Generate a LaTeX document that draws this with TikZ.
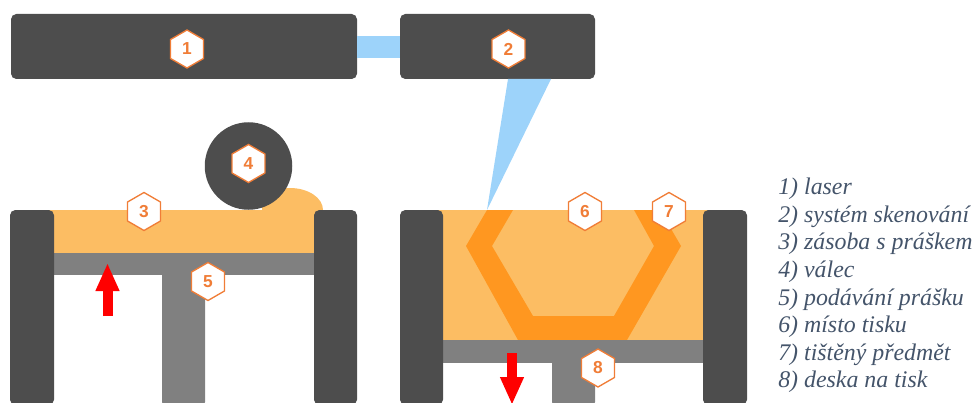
\documentclass[tikz,border=0pt]{standalone}
\usepackage{fontspec}
\setmainfont{Liberation Serif}
\newfontfamily\hexfont{Liberation Sans}
\usetikzlibrary{arrows.meta,shapes.geometric}
\definecolor{darkbox}{RGB}{77,77,77}
\definecolor{platform}{RGB}{128,128,128}
\definecolor{powder}{RGB}{252,189,99}
\definecolor{printed}{RGB}{255,151,32}
\definecolor{beam}{RGB}{157,211,250}
\definecolor{hexline}{RGB}{240,125,55}
\definecolor{legendtext}{RGB}{68,84,106}
\tikzset{
  hexmark/.style={
    regular polygon, regular polygon sides=6, shape border rotate=30,
    draw=hexline, fill=white, line width=1pt,
    minimum size=28.5pt, inner sep=0pt, outer sep=0pt,
    text=hexline, font=\hexfont\fontsize{13}{13}\selectfont\bfseries
  },
  headbox/.style={
    fill=darkbox, rounded corners=4pt, inner sep=0pt, outer sep=0pt,
    minimum height=48.75pt
  },
  wall/.style={fill=darkbox, rounded corners=4pt},
  liftarrow/.style={
    draw=red, line width=7.5pt,
    -{Triangle[length=21pt,width=16.5pt,fill=red]}
  }
}

\begin{document}
\begin{tikzpicture}[x=0.75pt, y=-0.75pt]
\useasboundingbox (0,0) rectangle (975,403);

%% ── Laser and scanner ────────────────────────────────────────────────────────
\node[headbox, minimum width=259.5pt] (laser)   at (184,46.5)   {};
\node[headbox, minimum width=146.25pt] (scanner) at (497.5,46.5) {};
\draw[beam, line width=16.5pt] (laser.east) ++(0,0.5) -- (scanner.west |- 0,47);
\fill[beam] (508,79) -- (551,79) -- (487,210) -- cycle;

%% ── Left chamber ─────────────────────────────────────────────────────────────
\fill[powder] (32,210) rectangle (335,253);
\fill[powder] (262,211) -- (262,188) -- (290,188) arc[start angle=-90, end angle=0, x radius=33, y radius=22] -- (323,211) -- cycle;
\fill[platform, rounded corners=3pt] (162,270) rectangle (205,406);
\fill[platform] (54,253) rectangle (314,275);
\fill[wall] (10,210) rectangle (54,405);
\fill[wall] (314,210) rectangle (357,405);
\fill[darkbox] (248.5,166) circle[radius=43.75];

%% ── Right chamber ────────────────────────────────────────────────────────────
\fill[powder] (422,210) rectangle (725,340);
\fill[printed] (487,210) -- (466,246) -- (518,340) -- (627,340) -- (681,246)
  -- (660,210) -- (634,210) -- (654,246) -- (614,316) -- (533,316) -- (492,246)
  -- (513,210) -- cycle;
\fill[platform, rounded corners=3pt] (552,358) rectangle (595,406);
\fill[platform] (443,340) rectangle (703,362.5);
\fill[wall] (400,210) rectangle (443,405);
\fill[wall] (703,210) rectangle (747,405);

%% ── Red arrows ───────────────────────────────────────────────────────────────
\coordinate (upfoot) at (107.5,316);
\coordinate (uptip)  at (107.5,263);
\coordinate (dntop)  at (512,353);
\coordinate (dntip)  at (512,405);
\draw[liftarrow] (upfoot) -- (uptip);
\draw[liftarrow] (dntop) -- (dntip);

%% ── Numbers ──────────────────────────────────────────────────────────────────
\node[hexmark] (n1) at (187,49)    {1};
\node[hexmark] (n2) at (508.5,49)  {2};
\node[hexmark] (n3) at (144,211.5) {3};
\node[hexmark] (n4) at (248.5,163.5) {4};
\node[hexmark] (n5) at (208,281.5) {5};
\node[hexmark] (n6) at (585,211.5) {6};
\node[hexmark] (n7) at (669,211.5) {7};
\node[hexmark] (n8) at (598,368)   {8};

%% ── Legend ───────────────────────────────────────────────────────────────────
\node[anchor=west, align=left, inner sep=0pt, text=legendtext,
  font=\fontsize{17.9}{20.7}\selectfont\itshape] (legend) at (778,285.5) {%
  1) laser\\
  2) systém skenování\\
  3) zásoba s práškem\\
  4) válec\\
  5) podávání prášku\\
  6) místo tisku\\
  7) tištěný předmět\\
  8) deska na tisk%
};

\end{tikzpicture}
\end{document}
